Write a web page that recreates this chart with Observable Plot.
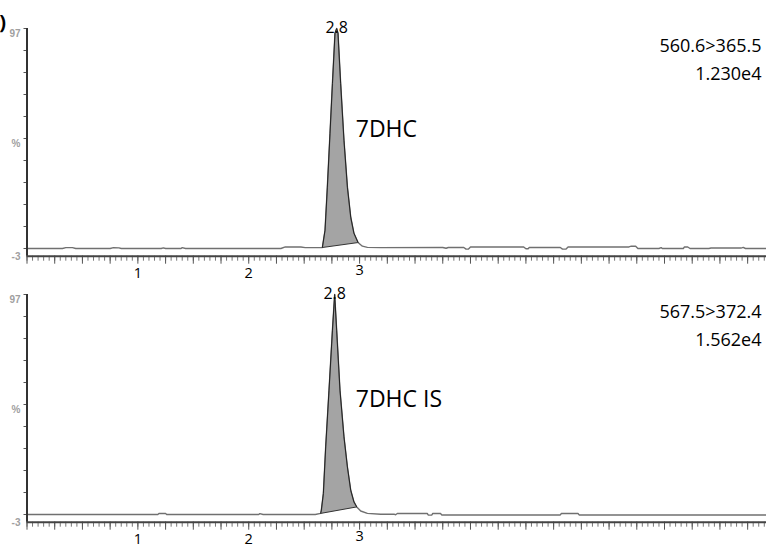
<!DOCTYPE html>
<html><head><meta charset="utf-8">
<script src="https://cdn.jsdelivr.net/npm/d3@7"></script>
<script src="https://cdn.jsdelivr.net/npm/@observablehq/plot@0.6"></script>
<style>
body{margin:0;background:#fff;}
#wrap{position:relative;width:766px;height:548px;overflow:hidden;background:#fff;}
#wrap svg{position:absolute;left:0;}
</style></head><body><div id="wrap"></div>
<script>
// ---- data ----
const timeTop = [0, 0.32, 0.35, 0.41, 0.44, 0.75, 0.78, 0.83, 0.85, 1.21, 1.23, 1.25, 1.39, 1.40, 1.43, 2.29, 2.33, 2.47, 2.51, 2.63,
  2.664, 2.688, 2.709, 2.733, 2.755, 2.778, 2.793, 2.805, 2.829, 2.859, 2.890, 2.920, 2.949, 2.986,
  3.025, 3.07, 3.19, 3.75, 3.78, 3.80, 3.94, 3.96, 3.98, 4.00, 4.48, 4.50, 4.52, 4.53, 4.81, 4.83, 4.86, 4.88,
  5.43, 5.45, 5.49, 5.51, 5.70, 5.72, 5.73, 5.92, 5.93, 5.96, 5.98, 6.15, 6.17, 6.44, 6.46, 6.48, 6.67];
const intensityTop = [-3, -3, -2.6, -2.6, -3, -3, -2.6, -2.7, -3, -3, -2.7, -3, -3, -2.6, -3, -3, -2.3, -2.3, -2.6, -2.6,
  -2.55, 5.3, 24.9, 49.4, 72.1, 94.9, 97, 94.9, 72.1, 46.2, 24.9, 11.2, 3.9, -0.3,
  -1.95, -2.5, -2.6, -2.55, -2.9, -2.55, -2.55, -3.3, -3.3, -2.3, -2.3, -3.1, -3.1, -2.55, -2.55, -3.3, -3.3, -2.3,
  -2.3, -1.95, -1.95, -3, -3, -2.6, -3, -3, -2.3, -2.3, -3, -3, -2.8, -2.8, -2.5, -3, -3];
const timeBottom = [0, 1.18, 1.19, 1.25, 1.26, 2.09, 2.10, 2.13, 2.60,
  2.649, 2.655, 2.673, 2.694, 2.724, 2.755, 2.775, 2.793, 2.823, 2.859, 2.890, 2.920, 2.949, 2.974,
  3.01, 3.07, 3.19, 3.31, 3.325, 3.34, 3.61, 3.62, 3.65, 3.66, 3.73, 3.74, 4.81, 4.82, 4.97, 4.98, 6.67];
const intensityBottom = [-3, -3, -2.55, -2.55, -3, -3, -2.6, -3, -3,
  -2.5, -1.0, 6.5, 27.7, 53.5, 80.8, 97, 80.8, 53.5, 32.3, 18.6, 8.0, 2.7, 0.45,
  -1.4, -2.5, -2.9, -2.86, -3.1, -2.55, -2.55, -3.3, -3.3, -2.55, -2.55, -3.2, -3.2, -2.55, -2.55, -3.2, -3.2];
const peakLabels = ["7DHC", "7DHC IS"];
const transitions = ["560.6>365.5", "567.5>372.4"];
const areas = ["1.230e4", "1.562e4"];
const peakRT = ["2.8", "2.8"];
const peakApexTime = [2.793, 2.775];
const peakApexValue = [97, 97];
const integStart = [[2.664, -2.55], [2.649, -2.5]];
const integEnd = [[2.986, -0.3], [2.974, 0.45]];
const xTickLabels = [1, 2, 3];
const yTickValues = [-3, 7, 17, 27, 37, 47, 57, 67, 77, 87, 97];
const yLabelValues = [97, 47, -3];
const yLabelText = ["97", "%", "-3"];

const xMax = 6.67, yMin = -6.5, yMax = 97;
const minorX = d3.range(0, 134).map(i => +(i * 0.05).toFixed(2));
const majorX = d3.range(0, 27).map(i => i * 0.25);
const FONT = "Open Sans";

function panel(i, time, intensity, height, marginBottom, withParen) {
  const data = time.map((t, j) => ({t, v: intensity[j]}));
  const s = integStart[i], e = integEnd[i];
  const peak = data.filter(d => d.t >= s[0] - 1e-9 && d.t <= e[0] + 1e-9);
  const yl = yLabelValues.map((v, j) => ({v, label: yLabelText[j]}));
  const marks = [
    Plot.line(peak, {x: "t", y: "v", fill: "#a4a4a4", stroke: "none"}),
    Plot.link([0], {x1: () => s[0], y1: () => s[1], x2: () => e[0], y2: () => e[1], stroke: "#333", strokeWidth: 1}),
    Plot.line(data, {x: "t", y: "v", stroke: "#707070", strokeWidth: 1.4}),
    Plot.line(peak, {x: "t", y: "v", stroke: "#222", strokeWidth: 1}),
    Plot.axisX(minorX, {anchor: "bottom", tickSize: 5, tickFormat: () => "", label: null, stroke: "#777"}),
    Plot.axisX(majorX, {anchor: "bottom", tickSize: 8, tickFormat: () => "", label: null, stroke: "#555"}),
    Plot.axisY(yTickValues, {anchor: "left", tickSize: 3, tickFormat: () => "", label: null, stroke: "#555"}),
    Plot.ruleY([yMin], {stroke: "#444", strokeWidth: 2}),
    Plot.ruleX([0], {y1: yMin, y2: yMax, stroke: "#333", strokeWidth: 2}),
    Plot.text(yl.filter(d => d.v !== -3), {y: "v", text: "label", frameAnchor: "left", dx: -6.5, dy: 5, textAnchor: "end", fontSize: 10, fontWeight: "bold", fill: "#a0a0a0", fontFamily: "Liberation Sans"}),
    Plot.text(yl.filter(d => d.v === -3), {y: "v", text: "label", frameAnchor: "left", dx: -6.5, dy: 8.5, textAnchor: "end", fontSize: 10, fontWeight: "bold", fill: "#a0a0a0", fontFamily: "Liberation Sans"}),
    Plot.text(xTickLabels.filter(d => d < 3), {x: d => d, text: d => String(d), frameAnchor: "bottom", dy: 21.5, fontSize: 14.5, fontFamily: FONT, fill: "#000"}),
    Plot.text(xTickLabels.filter(d => d >= 3), {x: d => d, text: d => String(d), frameAnchor: "bottom", dy: 18.5, fontSize: 14.5, fontFamily: FONT, fill: "#000"}),
    Plot.text([peakRT[i]], {x: () => peakApexTime[i], y: () => peakApexValue[i], text: d => d, lineAnchor: "bottom", dy: 4, fontSize: 16, fontFamily: FONT, fill: "#000"}),
    Plot.text([peakLabels[i]], {x: () => 2.965, y: () => (i === 0 ? 51 : 49), text: d => d, textAnchor: "start", lineAnchor: "middle", fontSize: 23, fontFamily: FONT, fill: "#000"}),
    Plot.text([transitions[i] + "\n" + areas[i]], {frameAnchor: "top-right", dx: -5, dy: 3.5, lineAnchor: "top", lineHeight: 1.556, textAnchor: "end", fontSize: 18, fontFamily: FONT, fill: "#000"})
  ];
  if (withParen) marks.push(Plot.text([")"], {frameAnchor: "top-left", dx: -21, dy: -6, textAnchor: "end", lineAnchor: "middle", fontSize: 20, fontWeight: "bold", fontFamily: FONT, fill: "#000"}));
  return Plot.plot({
    width: 766, height, marginTop: 28, marginBottom, marginLeft: 26.5, marginRight: 0,
    x: {domain: [0, xMax], axis: null},
    y: {domain: [yMin, yMax], axis: null},
    style: {background: "transparent", overflow: "visible"},
    marks
  });
}

const wrap = document.getElementById("wrap");
const topPanel = panel(0, timeTop, intensityTop, 290, 290 - 255.7, true);
topPanel.style.top = "0px";
const bottomPanel = panel(1, timeBottom, intensityBottom, 282, 282 - 255.7, false);
bottomPanel.style.top = "266px";
wrap.appendChild(topPanel);
wrap.appendChild(bottomPanel);
</script></body></html>
